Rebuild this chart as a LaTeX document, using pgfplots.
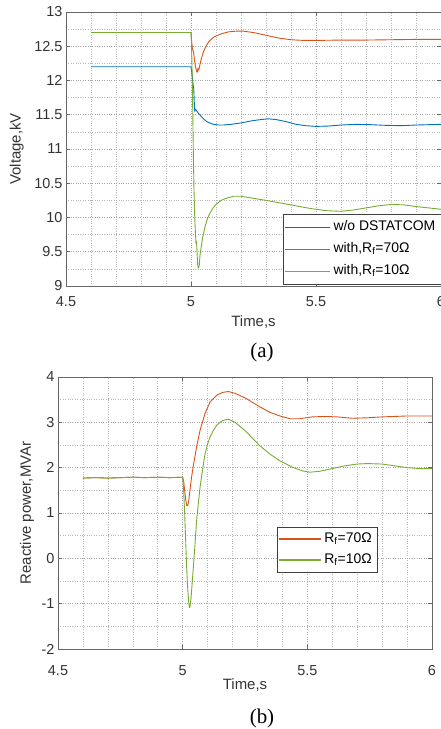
\documentclass[border=0pt]{standalone}
\usepackage{pgfplots}
\pgfplotsset{compat=1.18}
\usepackage{fontspec}
\setmainfont{Liberation Sans}
\newfontfamily\timesfont{Liberation Serif}
\definecolor{mblue}{RGB}{0,114,189}
\definecolor{morange}{RGB}{217,83,25}
\definecolor{mgreen}{RGB}{119,172,48}
\pgfplotsset{
  mstyle/.style={
    scale only axis,
    anchor=south west,
    /pgf/number format/assume math mode=true,
    tick label style={font=\fontsize{14.5}{16}\selectfont, text=black!80},
    xticklabel style={yshift=-7bp},
    axis line style={black!60},
    tick style={black!60, line width=0.5bp},
    tick align=inside,
    major tick length=4bp,
    minor tick length=0pt,
    grid=both,
    major grid style={dotted, black!35, line width=0.6bp},
    minor grid style={dotted, black!28, line width=0.6bp},
    xmin=4.5, xmax=6,
    xtick={4.5,5,5.5,6},
    minor x tick num=4,
    every axis plot/.append style={line width=0.9bp, line join=round},
    legend cell align=left,
  },
  limg/.style 2 args={legend image code/.code={\fill[fill=#1, draw=none] (0bp,-0.7bp) rectangle (#2,0.7bp);}},
}
\begin{document}
\begin{tikzpicture}
\path[use as bounding box] (0,0) rectangle (441bp,729bp);
% ---------------- (a) ----------------
\begin{axis}[mstyle,
  at={(66bp,443bp)}, width=375bp, height=274bp,
  ymin=9, ymax=13,
  ytick={9,9.5,10,10.5,11,11.5,12,12.5,13},
  minor y tick num=1,
  xlabel={Time,s}, ylabel={Voltage,kV},
  every axis x label/.style={at={(axis description cs:0.5,-0.131)}, anchor=center, font=\fontsize{15}{17}\selectfont, text=black!80},
  every axis y label/.style={at={(axis description cs:-0.131,0.5)}, rotate=90, anchor=center, font=\fontsize{15}{17}\selectfont, text=black!80},
  legend style={at={(axis description cs:1,0.007)}, anchor=south east, name=legA,
      draw=none, fill=white,
      font=\fontsize{14}{16}\selectfont, inner sep=1.5bp,
      nodes={text height=10bp, text depth=4bp, inner sep=4bp, fill=none, draw=none}},
]
\addplot[mblue, limg={mblue}{45bp}] coordinates {
(4.6,12.2) (5.0,12.2) (5.004,12.1) (5.008,11.95) (5.011,11.88) (5.013,11.7) (5.015,11.55) (5.018,11.58) (5.022,11.56) (5.03,11.52) (5.04,11.48) (5.05,11.44) (5.063,11.40) (5.075,11.38) (5.09,11.36) (5.11,11.35) (5.13,11.35) (5.16,11.36) (5.2,11.38) (5.24,11.41) (5.28,11.43) (5.31,11.44) (5.34,11.43) (5.38,11.40) (5.42,11.36) (5.46,11.34) (5.5,11.33) (5.55,11.335) (5.6,11.35) (5.66,11.36) (5.72,11.355) (5.78,11.345) (5.84,11.34) (5.9,11.35) (5.95,11.355) (6,11.36)
};
\addlegendentry{w/o DSTATCOM}
\addplot[morange, limg={morange}{45bp}] coordinates {
(4.6,12.7) (5.0,12.7) (5.003,12.55) (5.006,12.46) (5.01,12.42) (5.014,12.3) (5.018,12.2) (5.022,12.14) (5.025,12.12) (5.028,12.18) (5.031,12.15) (5.035,12.22) (5.04,12.3) (5.05,12.42) (5.06,12.5) (5.07,12.56) (5.08,12.6) (5.09,12.63) (5.1,12.65) (5.12,12.68) (5.15,12.71) (5.18,12.72) (5.21,12.72) (5.25,12.7) (5.3,12.66) (5.35,12.62) (5.4,12.595) (5.45,12.585) (5.5,12.585) (5.6,12.59) (5.7,12.59) (5.8,12.595) (5.9,12.6) (6,12.6)
};
\addlegendentry{with,R\textsubscript{f}=70Ω}
\addplot[mgreen, limg={mgreen}{45bp}] coordinates {
(4.6,12.7) (5.0,12.7) (5.002,12.55) (5.004,12.2) (5.006,11.8) (5.008,11.3) (5.01,10.8) (5.012,10.4) (5.015,10.0) (5.018,9.75) (5.02,9.62) (5.022,9.65) (5.024,9.5) (5.027,9.3) (5.03,9.26) (5.033,9.3) (5.036,9.45) (5.04,9.55) (5.043,9.62) (5.046,9.7) (5.05,9.76) (5.055,9.85) (5.063,9.95) (5.07,10.02) (5.08,10.09) (5.09,10.15) (5.1,10.19) (5.12,10.25) (5.14,10.28) (5.17,10.31) (5.2,10.31) (5.25,10.28) (5.3,10.25) (5.36,10.21) (5.42,10.17) (5.48,10.13) (5.54,10.1) (5.6,10.09) (5.65,10.11) (5.7,10.14) (5.75,10.17) (5.8,10.19) (5.85,10.185) (5.9,10.16) (5.95,10.14) (6,10.12)
};
\addlegendentry{with,R\textsubscript{f}=10Ω}
\end{axis}
\draw[black!75, line width=0.6bp] (legA.south west) rectangle (legA.north east);
\node[font=\timesfont\fontsize{21}{23}\selectfont, anchor=center] at (262bp,377bp) {(a)};
% ---------------- (b) ----------------
\begin{axis}[mstyle,
  at={(58bp,80bp)}, width=374bp, height=272bp,
  ymin=-2, ymax=4,
  ytick={-2,-1,0,1,2,3,4},
  minor y tick num=1,
  xticklabel style={yshift=-6bp},
  xlabel={Time,s}, ylabel={Reactive power,MVAr},
  every axis x label/.style={at={(axis description cs:0.5,-0.132)}, anchor=center, font=\fontsize{15}{17}\selectfont, text=black!80},
  every axis y label/.style={at={(axis description cs:-0.083,0.5)}, rotate=90, anchor=center, font=\fontsize{15}{17}\selectfont, text=black!80},
  legend style={at={(axis description cs:0.586,0.449)}, anchor=north west, name=legB,
      draw=none, fill=white,
      font=\fontsize{14}{16}\selectfont, inner sep=1.5bp,
      nodes={text height=10bp, text depth=4bp, inner sep=3.5bp, fill=none, draw=none}},
]
\addplot[morange, limg={morange}{42bp}] coordinates {
(4.6,1.77) (4.65,1.78) (4.7,1.77) (4.75,1.78) (4.8,1.79) (4.85,1.78) (4.9,1.79) (4.95,1.78) (5.0,1.79) (5.004,1.7) (5.008,1.5) (5.012,1.3) (5.016,1.17) (5.02,1.16) (5.024,1.25) (5.029,1.5) (5.036,1.8) (5.043,2.05) (5.056,2.46) (5.07,2.83) (5.09,3.2) (5.11,3.45) (5.137,3.6) (5.16,3.66) (5.183,3.68) (5.21,3.64) (5.25,3.54) (5.31,3.34) (5.35,3.22) (5.39,3.14) (5.43,3.08) (5.47,3.08) (5.52,3.12) (5.57,3.13) (5.62,3.12) (5.68,3.09) (5.74,3.1) (5.8,3.12) (5.9,3.14) (6,3.14)
};
\addlegendentry{R\textsubscript{f}=70Ω}
\addplot[mgreen, limg={mgreen}{42bp}] coordinates {
(4.6,1.77) (4.65,1.78) (4.7,1.77) (4.75,1.78) (4.8,1.79) (4.85,1.78) (4.9,1.79) (4.95,1.78) (5.0,1.79) (5.004,1.5) (5.008,1.0) (5.012,0.4) (5.016,-0.2) (5.02,-0.65) (5.024,-0.95) (5.027,-1.09) (5.03,-1.05) (5.034,-0.85) (5.038,-0.55) (5.043,-0.19) (5.05,0.35) (5.056,0.84) (5.063,1.22) (5.07,1.58) (5.08,1.97) (5.09,2.31) (5.1,2.52) (5.11,2.68) (5.125,2.84) (5.137,2.94) (5.16,3.04) (5.183,3.07) (5.21,3.0) (5.25,2.82) (5.31,2.48) (5.35,2.3) (5.39,2.15) (5.44,2.01) (5.48,1.93) (5.51,1.9) (5.55,1.92) (5.6,1.98) (5.65,2.04) (5.7,2.08) (5.74,2.09) (5.8,2.08) (5.85,2.04) (5.9,2.0) (5.95,1.98) (6,1.98)
};
\addlegendentry{R\textsubscript{f}=10Ω}
\end{axis}
\draw[black!75, line width=0.6bp] (legB.south west) rectangle (legB.north east);
\node[font=\timesfont\fontsize{21}{23}\selectfont, anchor=center] at (262bp,11bp) {(b)};
\end{tikzpicture}
\end{document}
